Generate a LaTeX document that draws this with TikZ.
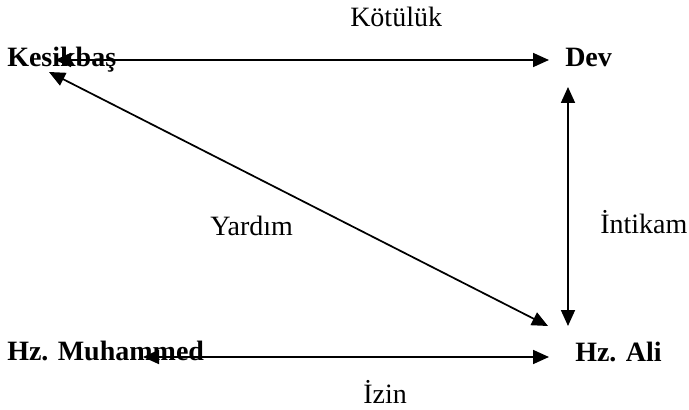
\documentclass[tikz,border=0pt]{standalone}
\usepackage{fontspec}
\setmainfont{Liberation Serif}
\usetikzlibrary{arrows.meta, calc}

\begin{document}
\begin{tikzpicture}[
    x=0.75pt, y=-0.75pt,
    every node/.style={font=\fontsize{21}{25}\selectfont, inner sep=0pt, anchor=base west},
    actor/.style={font=\fontsize{21}{25}\selectfont\bfseries},
    rel/.style={},
    link/.style={{Triangle[length=12pt, width=10.5pt]}-{Triangle[length=12pt, width=10.5pt]}, line width=1.3pt}
]
    \useasboundingbox (0,0) rectangle (689,410);

    % Figures
    \node[actor] (kesik) at (7,67) {Kesikbaş};
    \node[actor] (dev) at (565,67) {Dev};
    \node[actor] (muh) at (7,360) {Hz. Muhammed};
    \node[actor] (ali) at (575,361) {Hz. Ali};

    % Relations
    \node[rel] (kotu) at (350,27) {Kötülük};
    \node[rel] (yardim) at (210,235) {Yardım};
    \node[rel] (intikam) at (600,233) {İntikam};
    \node[rel] (izin) at (363,403) {İzin};

    % Arrows
    \draw[link] ($(kesik.base west)+(48,-7)$) -- ($(dev.base west)+(-16,-7)$);
    \draw[link] ($(kesik.base west)+(42,5)$) -- ($(ali.base west)+(-27,-35)$);
    \draw[link] ($(dev.base west)+(3,20)$) -- ($(ali.base west)+(-7,-35)$);
    \draw[link] ($(muh.base west)+(136,-3)$) -- ($(ali.base west)+(-26,-4)$);
\end{tikzpicture}
\end{document}
